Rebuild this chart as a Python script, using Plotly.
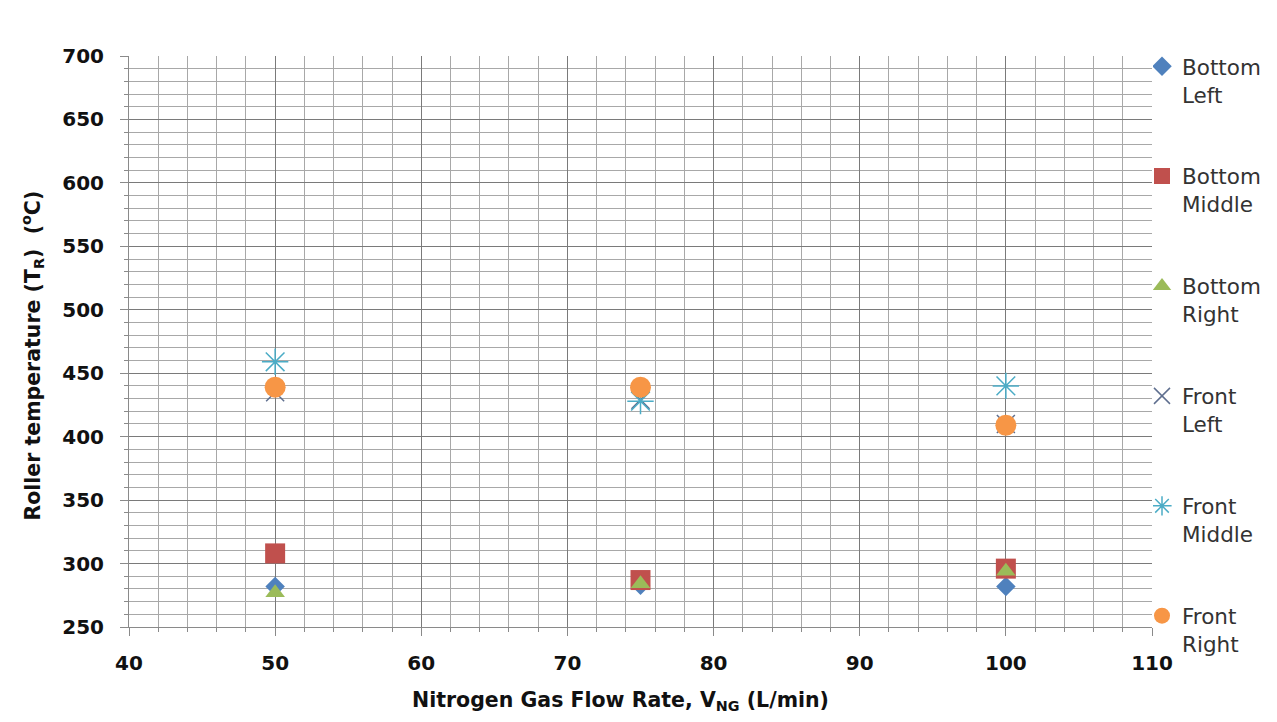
import plotly.graph_objects as go

flow = [50, 75, 100]
bottom_left = [282, 283, 282]
bottom_middle = [308, 287, 296]
bottom_right = [277, 284, 294]
front_left = [435, 429, 410]
front_middle = [459, 428, 440]
front_right = [439, 439, 409]

series = [
    ("Bottom<br>Left", bottom_left, "diamond", "#4F81BD", 15, None),
    ("Bottom<br>Middle", bottom_middle, "square", "#C0504D", 20, None),
    ("Bottom<br>Right", bottom_right, "triangle-up", "#9BBB59", 17, None),
    ("Front<br>Left", front_left, "x-thin-open", "#5F6F8F", 18, 1.5),
    ("Front<br>Middle", front_middle, "asterisk-open", "#4BACC6", 22, 1.5),
    ("Front<br>Right", front_right, "circle", "#F79646", 21, None),
]

FONT = "DejaVu Sans, sans-serif"
fig = go.Figure()
for i, (name, vals, sym, col, sz, lw) in enumerate(series):
    marker = dict(symbol=sym, color=col, size=sz)
    if lw:
        marker["line"] = dict(color=col, width=lw)
    else:
        marker["line"] = dict(width=0)
    fig.add_trace(go.Scatter(x=flow, y=vals, mode="markers", name=name,
                             marker=marker, legendgroup=f"g{i}"))

fig.update_layout(
    width=1269, height=714,
    margin=dict(l=121, r=124, t=48, b=95),
    paper_bgcolor="white", plot_bgcolor="white",
    font=dict(family=FONT, color="#222"),
    legend=dict(x=1.0, y=1.018, xanchor="left", yanchor="top", valign="top",
                font=dict(size=21.5, family=FONT, color="#333"),
                tracegroupgap=51, itemsizing="trace", maxheight=714,
                indentation=-11, borderwidth=0,
                bgcolor="rgba(0,0,0,0)"),
    showlegend=True,
)
fig.update_xaxes(
    range=[40, 110], dtick=10, tick0=40,
    showline=True, linecolor="#8a8a8a", linewidth=1,
    ticks="outside", ticklen=8, tickcolor="#8a8a8a", ticklabelstandoff=10,
    tickfont=dict(size=20, family=FONT, color="#111"),
    showgrid=True, gridcolor="#7a7a7a", gridwidth=1,
    minor=dict(dtick=2, showgrid=True, gridcolor="#a8a8a8", gridwidth=1,
               ticks="outside", ticklen=4, tickcolor="#8a8a8a"),
    zeroline=False, mirror=False,
)
fig.update_yaxes(
    range=[250, 700], dtick=50, tick0=250,
    showline=True, linecolor="#8a8a8a", linewidth=1,
    ticks="outside", ticklen=8, tickcolor="#8a8a8a", ticklabelstandoff=12,
    tickfont=dict(size=20, family=FONT, color="#111"),
    showgrid=True, gridcolor="#7a7a7a", gridwidth=1,
    minor=dict(dtick=10, showgrid=True, gridcolor="#a8a8a8", gridwidth=1,
               ticks="outside", ticklen=4, tickcolor="#8a8a8a"),
    zeroline=False,
)
fig.update_xaxes(tickprefix="<b>", ticksuffix="</b>")
fig.update_yaxes(tickprefix="<b>", ticksuffix="</b>")
fig.add_annotation(text="<b>Nitrogen Gas Flow Rate, V<sub>NG</sub> (L/min)</b>",
                   xref="paper", yref="paper", x=0.48, y=-0.13,
                   xanchor="center", yanchor="middle", showarrow=False,
                   font=dict(size=20.5, family=FONT, color="#111"))
fig.add_annotation(text="<b>Roller temperature (T<sub>R</sub>)  (<sup>o</sup>C)</b>",
                   xref="paper", yref="paper", x=-0.094, y=0.475,
                   xanchor="center", yanchor="middle", showarrow=False,
                   textangle=-90,
                   font=dict(size=20.5, family=FONT, color="#111"))
fig.add_shape(type="rect", xref="paper", yref="paper",
              x0=-0.122, x1=1.119, y0=-0.172, y1=1.089,
              line=dict(color="#a0a0a0", width=2), layer="above")
fig.write_html("out.html")
